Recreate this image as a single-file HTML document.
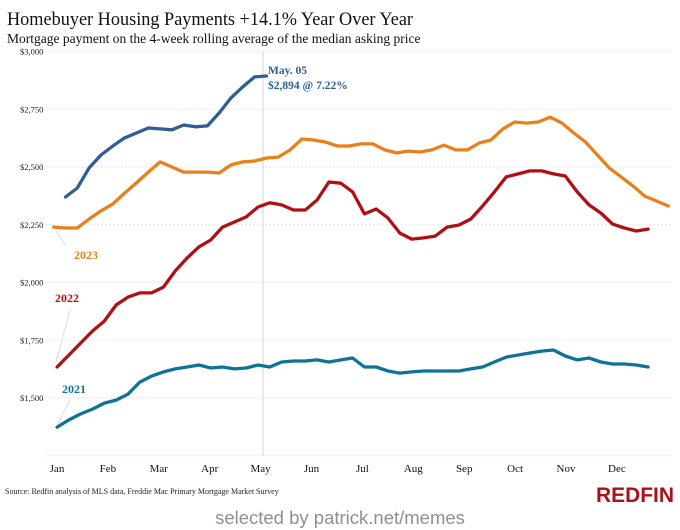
<!DOCTYPE html>
<html><head><meta charset="utf-8">
<style>
html,body{margin:0;padding:0;background:#fff;}
svg{display:block;}
.serif{font-family:"Liberation Serif",serif;}
</style></head>
<body>
<svg id="chart" width="680" height="530" viewBox="0 0 680 530" xmlns="http://www.w3.org/2000/svg">
  <text class="serif" x="7" y="25" font-size="19" fill="#111" textLength="406" lengthAdjust="spacingAndGlyphs">Homebuyer Housing Payments +14.1% Year Over Year</text>
  <text class="serif" x="7" y="43" font-size="13.5" fill="#111">Mortgage payment on the 4-week rolling average of the median asking price</text>
  <g id="grid"></g>
  <g id="yticks"></g>
  <g id="xticks"></g>
  <line x1="263" y1="52" x2="263" y2="456" stroke="#d4d4d4" stroke-width="1"/>
  <g id="series"></g>
  <text class="serif" x="268" y="74" font-size="11.5" font-weight="bold" fill="#2d5f96">May. 05</text>
  <text class="serif" x="268" y="89" font-size="11.5" font-weight="bold" fill="#2d5f96">$2,894 @ 7.22%</text>
  <line x1="56" y1="231" x2="66" y2="246" stroke="#ddd"/>
  <text class="serif" x="74" y="259" font-size="12" font-weight="bold" fill="#e8801c">2023</text>
  <line x1="56" y1="362" x2="70" y2="310" stroke="#ddd"/>
  <text class="serif" x="55" y="302" font-size="12" font-weight="bold" fill="#b01015">2022</text>
  <line x1="58" y1="423" x2="70" y2="400" stroke="#ddd"/>
  <text class="serif" x="62" y="393" font-size="12" font-weight="bold" fill="#0e7396">2021</text>
  <text class="serif" x="5" y="494" font-size="8" fill="#222">Source: Redfin analysis of MLS data, Freddie Mac Primary Mortgage Market Survey</text>
  <text x="674" y="502" text-anchor="end" font-family="Liberation Sans Narrow, Liberation Sans, sans-serif" font-size="21" font-weight="bold" fill="#a8121b" textLength="78" lengthAdjust="spacingAndGlyphs">REDFIN</text>
  <rect x="0" y="507" width="680" height="23" fill="#fff"/>
  <text x="340" y="524" text-anchor="middle" font-family="Liberation Sans, sans-serif" font-size="18.5" fill="#8f8f8f">selected by patrick.net/memes</text>
</svg>
<script>
const months = ["Jan","Feb","Mar","Apr","May","Jun","Jul","Aug","Sep","Oct","Nov","Dec"];
const yTickValues = [3000,2750,2500,2250,2000,1750,1500];
const yTickLabels = ["$3,000","$2,750","$2,500","$2,250","$2,000","$1,750","$1,500"];
const seriesNames = ["2021","2022","2023","2024"];
const startDay = [3,3,1,8];
const v2021 = [1374,1405,1431,1452,1478,1491,1517,1569,1595,1613,1626,1634,1643,1630,1634,1626,1630,1643,1634,1656,1660,1660,1665,1656,1665,1673,1634,1634,1617,1608,1613,1617,1617,1617,1617,1626,1634,1656,1677,1686,1695,1703,1708,1682,1665,1673,1656,1647,1647,1643,1634];
const v2022 = [1634,1686,1738,1790,1833,1903,1937,1955,1955,1980,2050,2106,2154,2184,2240,2262,2284,2327,2345,2336,2314,2314,2357,2435,2430,2392,2297,2318,2279,2214,2188,2193,2201,2240,2249,2275,2331,2392,2457,2470,2483,2483,2470,2461,2392,2336,2301,2253,2236,2223,2231];
const v2023 = [2240,2236,2236,2275,2310,2340,2387,2431,2478,2522,2500,2478,2478,2478,2474,2509,2522,2526,2539,2543,2574,2621,2617,2608,2591,2591,2600,2600,2574,2561,2569,2565,2574,2595,2574,2574,2604,2617,2665,2695,2690,2695,2716,2690,2647,2608,2552,2496,2457,2418,2374,2353,2331];
const v2024 = [2370,2409,2496,2552,2591,2626,2647,2669,2665,2661,2682,2674,2678,2734,2799,2847,2890,2894];
const seriesValues = [v2021,v2022,v2023,v2024];
const seriesColors = ["#0e7396","#b01015","#e8801c","#2d5f96"];

const NS="http://www.w3.org/2000/svg";
function yScale(v){return 398-(v-1500)*0.231;}
function xScaleDay(d){return 52+d*1.6886;}
function xMonth(i){return 57+i*50.9;}

const grid=document.getElementById('grid');
const yt=document.getElementById('yticks');
const gridVals=yTickValues.concat([1250]);
gridVals.forEach(function(v){
  const l=document.createElementNS(NS,'line');
  l.setAttribute('x1',45);l.setAttribute('x2',672);
  l.setAttribute('y1',yScale(v));l.setAttribute('y2',yScale(v));
  l.setAttribute('stroke','#e6e6e6');l.setAttribute('stroke-dasharray','2,2');
  
  
  grid.appendChild(l);
});
yTickValues.forEach(function(v,i){
  const t=document.createElementNS(NS,'text');
  t.setAttribute('x',20);t.setAttribute('y',yScale(v)+3);
  t.setAttribute('font-size','8.5');t.setAttribute('class','serif');t.setAttribute('fill','#222');
  t.textContent=yTickLabels[i];
  
  
  yt.appendChild(t);
});
const xt=document.getElementById('xticks');
months.forEach(function(m,i){
  const t=document.createElementNS(NS,'text');
  t.setAttribute('x',xMonth(i));t.setAttribute('y',472);
  t.setAttribute('text-anchor','middle');t.setAttribute('font-size','11');t.setAttribute('class','serif');t.setAttribute('fill','#111');
  t.textContent=m;
  
  
  xt.appendChild(t);
});
const sg=document.getElementById('series');
seriesValues.forEach(function(vals,s){
  const pts=vals.map(function(v,i){return xScaleDay(startDay[s]+i*7).toFixed(1)+','+yScale(v).toFixed(1);}).join(' ');
  const p=document.createElementNS(NS,'polyline');
  p.setAttribute('points',pts);p.setAttribute('fill','none');
  p.setAttribute('stroke',seriesColors[s]);p.setAttribute('stroke-width','3.3');
  p.setAttribute('stroke-linejoin','round');p.setAttribute('stroke-linecap','round');
  
  
  sg.appendChild(p);
});
</script>
</body></html>
